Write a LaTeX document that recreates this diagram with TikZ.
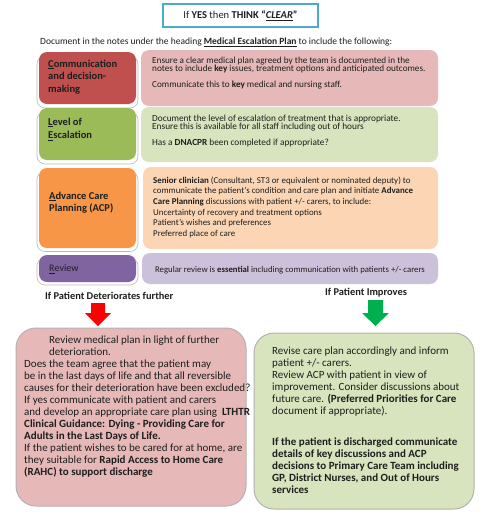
\documentclass[tikz,border=0pt]{standalone}
\usepackage{fontspec}
\setmainfont{Carlito}
\definecolor{tealb}{HTML}{4BACC6}
\definecolor{txt}{HTML}{1E1E1E}
\definecolor{redA}{HTML}{C0504D}
\definecolor{redB}{HTML}{E6B9B8}
\definecolor{grnA}{HTML}{9BBB59}
\definecolor{grnB}{HTML}{D7E4BD}
\definecolor{orgA}{HTML}{F79646}
\definecolor{orgB}{HTML}{FCD5B4}
\definecolor{purA}{HTML}{8064A2}
\definecolor{purB}{HTML}{CCC1DA}
\definecolor{arrR}{HTML}{FF0000}
\definecolor{arrG}{HTML}{00B050}
\newcommand{\fs}[2]{\fontsize{#1}{#2}\selectfont\lineskiplimit=-50pt\relax}
\begin{document}
\begin{tikzpicture}[x=1pt,y=-1pt,
  bx/.style={rounded corners=8pt, inner sep=0pt, draw=none},
  shad/.style={rounded corners=8pt, inner sep=0pt, fill=white, draw=gray!55, line width=0.6pt},
  bigbx/.style={rounded corners=20pt, inner sep=0pt, draw=gray!60, line width=1pt},
  lbl/.style={anchor=north west, inner sep=0pt, align=left, text=txt},
  ttl/.style={draw=tealb, line width=1.5pt, inner sep=0pt, text=txt}
]
\useasboundingbox (0,0) rectangle (481,517);

% title
\node[ttl, minimum width=155pt, minimum height=23pt, font=\fs{10.5}{12}] (title) at (240.5,15.5)
  {If \textbf{YES} then \textbf{THINK “\textit{\underline{CLEAR}}”}};
\node[anchor=west, inner sep=0pt, text=txt, font=\fs{9.5}{11}] (doc) at (40,42)
  {Document in the notes under the heading \textbf{\underline{Medical Escalation Plan}} to include the following:};

% row 1
\node[shad, minimum width=101pt, minimum height=52pt] (s1) at (87.5,82) {};
\node[bx, fill=redA, minimum width=97pt, minimum height=52pt] (l1) at (87.5,78) {};
\node[bx, fill=redB, minimum width=297pt, minimum height=56pt] (r1) at (289.5,78) {};
\node[lbl, font=\fs{10.5}{12.5}\bfseries] (l1t) at (48,59.5)
  {\underline{C}ommunication\\and decision-\\making};
\node[lbl, font=\fs{9.2}{8}] (r1t) at (152,57)
  {Ensure a clear medical plan agreed by the team is documented in the\\notes to include \textbf{key} issues, treatment options and anticipated outcomes.\\[8pt]Communicate this to \textbf{key} medical and nursing staff.};

% row 2
\node[shad, minimum width=101pt, minimum height=52pt] (s2) at (87.5,138) {};
\node[bx, fill=grnA, minimum width=97pt, minimum height=52pt] (l2) at (87.5,134) {};
\node[bx, fill=grnB, minimum width=297pt, minimum height=55pt] (r2) at (289.5,134.5) {};
\node[lbl, font=\fs{10.5}{13.5}\bfseries] (l2t) at (48,117.5)
  {\underline{L}evel of\\\underline{E}scalation};
\node[lbl, font=\fs{9.3}{8}] (r2t) at (152,115)
  {Document the level of escalation of treatment that is appropriate.\\Ensure this is available for all staff including out of hours\\[8pt]Has a \textbf{DNACPR} been completed if appropriate?};

% row 3
\node[shad, minimum width=101pt, minimum height=80pt] (s3) at (87.5,211.5) {};
\node[bx, fill=orgA, minimum width=97pt, minimum height=80pt] (l3) at (87.5,208) {};
\node[bx, fill=orgB, minimum width=295pt, minimum height=82pt] (r3) at (290.5,208) {};
\node[lbl, font=\fs{10.5}{12.5}\bfseries] (l3t) at (49,191.5)
  {\underline{A}dvance Care\\Planning (ACP)};
\node[lbl, font=\fs{8.9}{10.6}] (r3t) at (153,176.5)
  {\textbf{Senior clinician} (Consultant, ST3 or equivalent or nominated deputy) to\\communicate the patient’s condition and care plan and initiate \textbf{Advance}\\\textbf{Care Planning} discussions with patient +/- carers, to include:\\Uncertainty of recovery and treatment options\\Patient’s wishes and preferences\\Preferred place of care};

% row 4
\node[shad, minimum width=101pt, minimum height=27pt] (s4) at (87.5,271.5) {};
\node[bx, fill=purA, minimum width=97pt, minimum height=27pt] (l4) at (87.5,268.5) {};
\node[bx, fill=purB, minimum width=296pt, minimum height=31pt] (r4) at (290,268.5) {};
\node[anchor=west, inner sep=0pt, text=txt, font=\fs{10}{12}] (l4t) at (49,269) {\underline{R}eview};
\node[inner sep=0pt, text=txt, font=\fs{8.75}{10}] (r4t) at (290,270)
  {Regular review is \textbf{essential} including communication with patients +/- carers};

% headers
\node[anchor=west, inner sep=0pt, text=txt, font=\fs{10.4}{12}\bfseries] (hdet) at (45,296) {If Patient Deteriorates further};
\node[anchor=west, inner sep=0pt, text=txt, font=\fs{10.4}{12}\bfseries] (himp) at (325,293) {If Patient Improves};

% block arrows
\coordinate (ra) at (98,303);
\coordinate (ga) at (375.5,300);
\fill[arrR] (ra) ++(-7,0) -- ++(14,0) -- ++(0,10) -- ++(6,0) -- ++(-13,13) -- ++(-13,-13) -- ++(6,0) -- cycle;
\fill[arrG] (ga) ++(-7.5,0) -- ++(15,0) -- ++(0,13) -- ++(6,0) -- ++(-13.5,13) -- ++(-13.5,-13) -- ++(6,0) -- cycle;

% bottom boxes
\node[bigbx, fill=redB, minimum width=230pt, minimum height=178pt] (bl) at (131,417) {};
\node[bigbx, fill=grnB, minimum width=220pt, minimum height=176pt] (br) at (364,421) {};
\node[lbl, font=\fs{11}{12.07}] (blt) at (24,335.3)
  {\hspace*{25pt}Review medical plan in light of further\\
   \hspace*{25pt}deterioration.\\
   Does the team agree that the patient may\\
   be in the last days of life and that all reversible\\
   causes for their deterioration have been excluded?\\
   If yes communicate with patient and carers\\
   and develop an appropriate care plan using \textbf{ LTHTR}\\
   \textbf{Clinical Guidance: Dying - Providing Care for}\\
   \textbf{Adults in the Last Days of Life.}\\
   If the patient wishes to be cared for at home, are\\
   they suitable for \textbf{Rapid Access to Home Care}\\
   \textbf{(RAHC) to support discharge}};
\node[lbl, font=\fs{11}{12}] (brt) at (272,346.8)
  {Revise care plan accordingly and inform\\
   patient +/- carers.\\
   Review ACP with patient in view of\\
   improvement. Consider discussions about\\
   future care. \textbf{(Preferred Priorities for Care}\\
   document if appropriate).\\[19pt]
   \textbf{If the patient is discharged communicate}\\
   \textbf{details of key discussions and ACP}\\
   \textbf{decisions to Primary Care Team including}\\
   \textbf{GP, District Nurses, and Out of Hours}\\
   \textbf{services}};
\end{tikzpicture}
\end{document}
